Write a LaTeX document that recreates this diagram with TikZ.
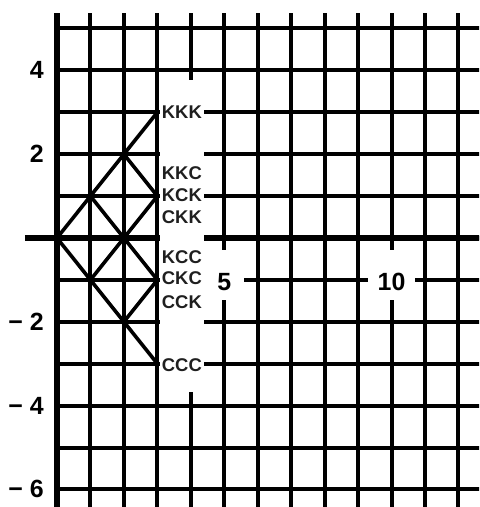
\documentclass[tikz,border=0pt]{standalone}
\usepackage{fontspec}
\setmainfont{Liberation Sans}
\begin{document}
\begin{tikzpicture}[x=33.45bp,y=41.9bp,
  gridline/.style={line width=4bp,black},
  axisline/.style={line width=5.5bp,black},
  branch/.style={line width=3.6bp,black,line cap=round},
  outcome/.style={anchor=west,inner sep=0pt,font=\fontsize{18.5}{20}\selectfont\bfseries,text=black!88},
  ylab/.style={anchor=east,inner sep=0pt,font=\fontsize{25}{28}\selectfont\bfseries},
  xlab/.style={fill=white,inner xsep=10bp,inner ysep=0bp,minimum width=40bp,minimum height=50bp,
               text height=32bp,text depth=0bp,font=\fontsize{25}{28}\selectfont\bfseries}]
\useasboundingbox (-1.704,-6.42) rectangle (12.616,5.68);
\clip (-1.704,-6.42) rectangle (12.616,5.68);
% grid
\foreach \y in {-6,...,5} \draw[gridline] (0,\y) -- (12.8,\y);
\foreach \x in {1,...,12} \draw[gridline] (\x,-6.6) -- (\x,5.37);
% axes
\draw[axisline] (-0.96,0) -- (12.8,0);
\draw[axisline] (0,-6.6) -- (0,5.37);
% white column behind outcomes
\fill[white] (3.065,-3.68) rectangle (4.40,3.77);
% x labels
\node[xlab] (x5) at (5,-0.88) {5};
\node[xlab] (x10) at (10,-0.88) {10};
% y labels
\node[ylab] (y4) at (-0.39,4) {4};
\node[ylab] (y2) at (-0.39,2) {2};
\node[ylab] (ym2) at (-0.39,-2) {− 2};
\node[ylab] (ym4) at (-0.39,-4) {− 4};
\node[ylab] (ym6) at (-0.39,-6) {− 6};
% tree
\coordinate (r) at (0,0);
\coordinate (u1) at (1,1);
\coordinate (d1) at (1,-1);
\coordinate (u2) at (2,2);
\coordinate (m2) at (2,0);
\coordinate (d2) at (2,-2);
\coordinate (t3) at (3,3);
\coordinate (s3) at (3,1);
\coordinate (s4) at (3,-1);
\coordinate (b3) at (3,-3);
\draw[branch] (r) -- (u1);
\draw[branch] (r) -- (d1);
\draw[branch] (u1) -- (u2);
\draw[branch] (u1) -- (m2);
\draw[branch] (d1) -- (m2);
\draw[branch] (d1) -- (d2);
\draw[branch] (u2) -- (t3);
\draw[branch] (u2) -- (s3);
\draw[branch] (m2) -- (s3);
\draw[branch] (m2) -- (s4);
\draw[branch] (d2) -- (s4);
\draw[branch] (d2) -- (b3);
% outcomes
\node[outcome] (kkk) at (3.13,3) {KKK};
\node[outcome] (kkc) at (3.13,1.55) {KKC};
\node[outcome] (kck) at (3.13,1.03) {KCK};
\node[outcome] (ckk) at (3.13,0.5) {CKK};
\node[outcome] (kcc) at (3.13,-0.45) {KCC};
\node[outcome] (ckc) at (3.13,-0.96) {CKC};
\node[outcome] (cck) at (3.13,-1.53) {CCK};
\node[outcome] (ccc) at (3.13,-3.03) {CCC};
\end{tikzpicture}
\end{document}
